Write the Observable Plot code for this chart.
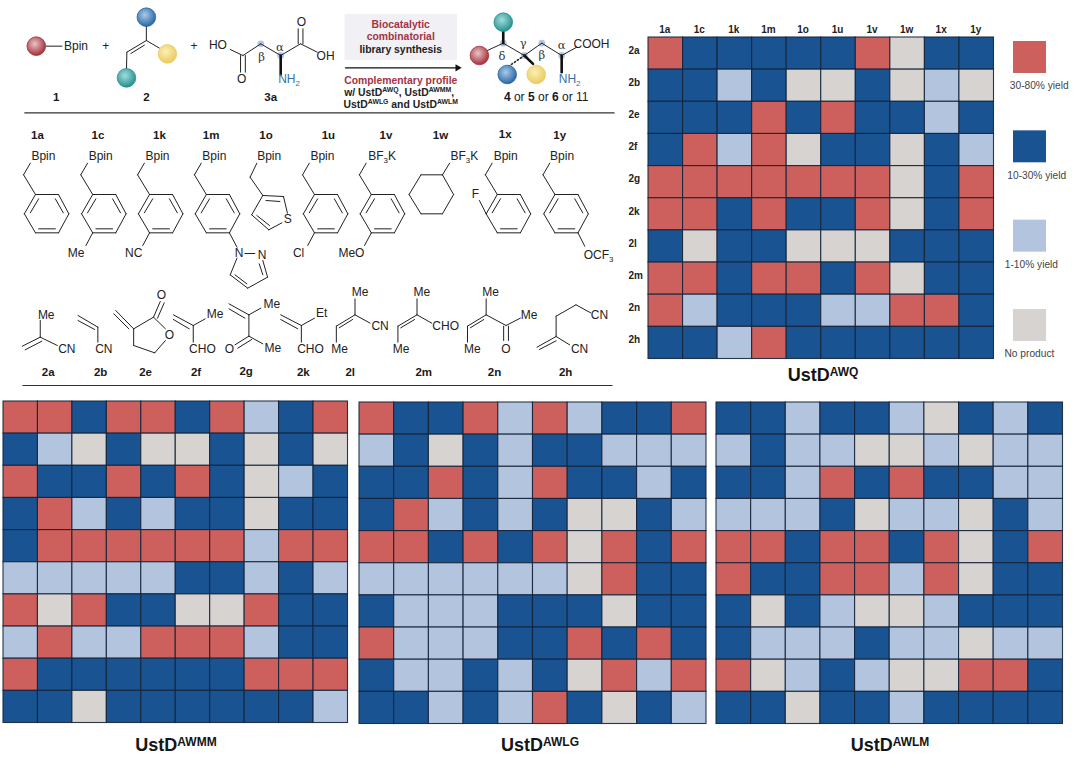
<!DOCTYPE html>
<html>
<head>
<meta charset="utf-8">
<script src="https://cdn.jsdelivr.net/npm/d3@7"></script>
<script src="https://cdn.jsdelivr.net/npm/@observablehq/plot@0.6"></script>
<style>
  html, body { margin: 0; background: #fff; }
  #page { position: relative; width: 1080px; height: 771px; overflow: hidden; font-family: "Liberation Sans", Arial, sans-serif; }
  #page svg.plot, #page > div > svg { position: absolute; }
  .panel-title { position: absolute; font: bold 18px/20px "Liberation Sans", Arial, sans-serif; color: #151515; white-space: nowrap; transform: translateX(-50%); }
  .panel-title sup { font-size: 12px; line-height: 0; vertical-align: 5.5px; }
</style>
</head>
<body>
<div id="page"></div>
<svg width="0" height="0" style="position:absolute">
  <defs id="balls"></defs>
</svg>
<script>
// ---------- chart values ----------
const substrates1 = ["1a","1c","1k","1m","1o","1u","1v","1w","1x","1y"];
const substrates2 = ["2a","2b","2e","2f","2g","2k","2l","2m","2n","2h"];
const yieldClasses = ["30-80% yield","10-30% yield","1-10% yield","No product"];
const yieldColors = ["#cd605c","#1a5391","#b3c5de","#d6d3d1"];
// H = 30-80%, M = 10-30%, L = 1-10%, N = no product; one string per row (2a ... 2h), one letter per column (1a ... 1y)
const ustdAWQ = ["HMMMMMHNMM","MMLMNNMNLN","MMMHMHMMLM","MHLHNMMNML","HHHHHHHNMH","HHMHMMHNMH","MNMMNNNMMM","HHMHHMHNMM","HLMMMLLHHM","MMLHMMMMMM"];
const ustdAWMM = ["HHMHHMHLMH","MLNMNNMNMN","HMMHMHMNLM","MHLMLMMNMM","MHHHHHHLHH","LLLLLMMLML","HNHMMNNHMM","LHLLHHHLMM","HMMMMMMHHH","MMNMMMMMML"];
const ustdAWLG = ["HMMHLHLMMH","LMNMLMMLLL","MMHMLHMMLM","MHLMLMNNML","HHMHMHNHMH","LLLLLLNHMM","MLLLMMMNMM","HLLLMMHMHM","MLLMLMNHLH","MMLMLHMNML"];
const ustdAWLM = ["MMLMMLNMLM","LMLLNNLNLL","MMLHMHMMLL","LLLMNLLNML","HHMHHMHNMH","HMMHHLHNMM","MNMLNNLMMM","MLLLMLLNLL","HNLMLNNHHM","MMNMMLMMMM"];
const classOf = {H: yieldClasses[0], M: yieldClasses[1], L: yieldClasses[2], N: yieldClasses[3]};

// Heatmap panels: frame position on the page
const panels = [
  {name: "AWQ",  rows: ustdAWQ,  x: 647.7, y: 36.7,  w: 345.5, h: 321.5, axes: true, tx: 823, ty: 365},
  {name: "AWMM", rows: ustdAWMM, x: 2.5,   y: 401,   w: 344.5, h: 321.5, tx: 176, ty: 735},
  {name: "AWLG", rows: ustdAWLG, x: 358.5, y: 402.3, w: 347,   h: 321.5, tx: 540, ty: 735},
  {name: "AWLM", rows: ustdAWLM, x: 716.3, y: 402.3, w: 346.5, h: 321.5, tx: 890, ty: 735}
];
const legendDx = [-20.2, -22.7, -25.2, -25.5];

// ---------- reaction scheme: drawing units, mapped on the page by the Plot scales ----------
const row1 = 345, row2 = 825;
const ringBonds = [[0,0,17,-35],[0,0,30,59],[30,59,88,59],[88,59,114,117],[114,117,88,174],[88,174,30,174],[30,174,2,117],[2,117,30,59],[17,114,38,72],[80,72,100,114],[38,162,80,162]];
const benzylX = {"1a":58,"1c":202,"1k":345,"1m":488,"1u":760,"1v":903,"1x":1220,"1y":1365};
const extraBonds1 = [
  [202+30,178+174,202+13,178+212],[345+30,178+174,345+13,178+212],[760+30,178+174,760+13,178+212],[903+30,178+174,903+13,178+212],
  [576,352,595,395],[615,414,640,414],[595,428,578,478],[578,478,622,518],[622,518,672,485],[672,485,660,435],[590,478,620,505],[660,478,651,445],
  [1453,352,1470,392],
  [1222,295,1205,255],
  [628,185,645,143],[628,185,660,240],[660,240,712,243],[668,255,703,258],[712,243,722,293],[708,322,675,343],[675,343,632,298],[645,300,677,330],[632,298,660,240],
  [1058,178,1112,178],[1112,178,1140,237],[1140,237,1112,295],[1112,295,1058,295],[1058,295,1028,237],[1028,237,1058,178],[1112,178,1130,143]
].map(b => [b[0], b[1]+row1, b[2], b[3]+row1]);
const bonds2 = [
  [100,185,100,135],[100,185,55,212],[104,197,62,223],[100,185,143,210],
  [195,120,245,155],[195,135,237,162],[245,155,245,200],
  [385,125,402,78],[395,128,412,82],[335,160,385,125],[385,125,415,160],[415,195,388,232],[388,232,335,210],[335,210,335,160],[335,160,290,105],[323,160,285,115],
  [485,150,435,118],[475,160,435,132],[485,150,515,130],[485,150,485,200],
  [625,118,575,85],[615,128,575,100],[625,118,655,98],[625,118,625,182],[625,182,590,208],[632,192,597,218],[625,182,660,205],
  [757,150,705,118],[748,160,705,132],[757,150,790,128],[757,150,757,200],
  [892,118,892,70],[892,118,930,143],[892,118,845,152],[886,132,852,157],[845,152,845,200],
  [1048,118,1048,70],[1048,118,1085,143],[1048,118,1000,152],[1042,132,1007,157],[1000,152,1000,200],
  [1222,118,1222,70],[1222,118,1272,150],[1272,150,1308,128],[1266,152,1266,195],[1278,152,1278,195],[1222,118,1175,152],[1216,132,1182,157],[1175,152,1175,200],
  [1398,183,1350,215],[1398,196,1356,222],[1398,183,1398,122],[1398,122,1448,88],[1448,88,1485,112],[1398,183,1432,208]
].map(b => [b[0], b[1]+row2, b[2], b[3]+row2]);
const bonds0 = [
  [115,137,155,137],
  [367,120,367,75],[367,120,318,155],[362,134,328,159],[367,120,400,143],[318,155,317,205],
  [578,147,610,165],[610,165,655,130],[655,130,705,165],[705,165,755,130],[755,130,797,155],[604,165,604,215],[616,165,616,215],[749,130,749,85],[761,130,761,85],
  [1225,150,1265,128],[1265,128,1318,165],[1318,165,1362,128],[1362,128,1412,165],[1412,165,1450,140]
];
const wedges = [[705,165,705,222],[1265,128,1265,85],[1412,165,1412,215],[1318,165,1340,190]];
const hashed = [[1318,165,1278,198]];
const arrowLine = [[868,202,1150,202]];
const arrowTip = [[1150,202]];
const rules = [[60,337,1545,337],[55,330+row2,1540,330+row2]];
const catalystBox = [[867,42,1150,180]];
const balls = [
  ["red",90,137],["blue",367,50],["yellow",420,160],["teal",317,232],
  ["teal",1265,65],["red",1205,165],["blue",1275,222],["yellow",1348,222]
];
const centres = [[655,130],[705,165],[1265,128],[1318,165],[1362,128],[1412,165]];
const ballColors = {red: ["#e9c4c6","#a5303a"], blue: ["#a9cbe8","#2a66a6"], yellow: ["#fbf0b4","#eacb62"], teal: ["#a3dcdc","#26918f"]};

const plainLabels = [
  ["Bpin",190,137],["+",265,137],["+",487,137],["HO",547,135],["O",757,65],["O",607,235],["OH",818,168],["COOH",1487,132],
  ...[[108],[252],[395],[538],[676],[810]].map(([x]) => ["Bpin",x,122+row1]),
  ["BF_{3}K",960,122+row1],["BF_{3}K",1167,122+row1],["Bpin",1271,122+row1],["Bpin",1413,122+row1],
  ["S",723,312+row1],["Me",190,412+row1],["NC",335,412+row1],["N",600,412+row1],["N",658,418+row1],["Cl",750,412+row1],["MeO",883,412+row1],["F",1195,237+row1],["OCF_{3}",1505,418+row1],
  ["Me",115,118+row2],["CN",167,220+row2],["CN",260,220+row2],["O",405,58+row2],["O",425,178+row2],["Me",540,116+row2],["CHO",508,220+row2],
  ["Me",683,85+row2],["O",576,220+row2],["Me",685,218+row2],["Et",808,113+row2],["CHO",780,220+row2],
  ["Me",905,50+row2],["CN",955,152+row2],["Me",853,220+row2],["Me",1060,50+row2],["CHO",1120,152+row2],["Me",1008,220+row2],
  ["Me",1233,50+row2],["Me",1330,118+row2],["O",1272,220+row2],["Me",1187,220+row2],["CN",1507,118+row2],["CN",1457,220+row2]
];
const greekLabels = [["α",703,140],["β",657,170],["δ",1262,167],["γ",1315,128],["β",1362,165],["α",1412,135]];
const aminoLabels = [["NH_{2}",726,237],["NH_{2}",1432,237]];
const boldLabels = [
  ["1",140,290],["2",367,290],["3a",680,290],
  ["1a",93,60+row1],["1c",245,60+row1],["1k",400,60+row1],["1m",530,60+row1],["1o",668,60+row1],["1u",825,60+row1],["1v",970,60+row1],["1w",1107,60+row1],["1x",1270,57+row1],["1y",1407,60+row1],
  ["2a",120,290+row2],["2b",252,290+row2],["2e",365,290+row2],["2f",492,290+row2],["2g",618,286+row2],["2k",762,290+row2],["2l",880,290+row2],["2m",1065,290+row2],["2n",1243,290+row2],["2h",1422,290+row2]
];
const mixedProduct = [["*4* or *5* or *6* or 11",1373,290]];
const boxRed = [["Biocatalytic",1007,72],["combinatorial",1007,108]];
const boxDark = [["library synthesis",1007,147]];
const underRed = [["Complementary profile",1007,240]];
const underDark = [["w/ UstD^{AWQ}, UstD^{AWMM},",1003,276],["UstD^{AWLG} and UstD^{AWLM}",1007,312]];

// ---------- drawing ----------
const page = document.getElementById("page");
const defs = d3.select("#balls");
for (const [name, [hi, lo]] of Object.entries(ballColors)) {
  const g = defs.append("radialGradient").attr("id", "ball-" + name).attr("cx", "42%").attr("cy", "38%").attr("r", "62%");
  g.append("stop").attr("offset", "0%").attr("stop-color", hi);
  g.append("stop").attr("offset", "100%").attr("stop-color", lo);
}

function place(el, left, top) {
  el.style.position = "absolute";
  el.style.left = left + "px";
  el.style.top = top + "px";
  el.style.background = "transparent";
  page.appendChild(el);
}

panels.forEach(p => {
  const cells = p.rows.flatMap((r, i) => [...r].map((c, j) => ({row: substrates2[i], col: substrates1[j], cls: classOf[c]})));
  const ml = p.axes ? 24 : 1, mt = p.axes ? 22 : 1;
  const plot = Plot.plot({
    width: p.w + ml + 1, height: p.h + mt + 1,
    marginLeft: ml, marginTop: mt, marginRight: 1, marginBottom: 1,
    style: {fontFamily: '"Liberation Sans", Arial, sans-serif', background: "transparent", overflow: "visible"},
    x: {domain: substrates1, padding: 0, round: false, axis: null},
    y: {domain: substrates2, padding: 0, round: false, axis: null},
    color: {domain: yieldClasses, range: yieldColors},
    marks: [
      Plot.cell(cells, {x: "col", y: "row", fill: "cls", stroke: "#14243a", strokeWidth: 1.1, strokeOpacity: 0.9}),
      ...(p.axes ? [
        Plot.axisX({anchor: "top", tickSize: 0, tickPadding: 5, fontSize: 10, fontWeight: "bold", fill: "#222", dx: -1, label: null}),
        Plot.axisY({anchor: "left", tickSize: 0, textAnchor: "start", tickPadding: 0, dx: -20, dy: -3, fontSize: 10, fontWeight: "bold", fill: "#222", label: null})
      ] : [])
    ]
  });
  place(plot, p.x - ml, p.y - mt);
  const t = document.createElement("div");
  t.className = "panel-title";
  t.style.left = p.tx + "px";
  t.style.top = p.ty + "px";
  t.innerHTML = "UstD<sup>" + p.name + "</sup>";
  page.appendChild(t);
});

// legend
const legendPlot = Plot.plot({
  width: 80, height: 325,
  marginLeft: 10, marginRight: 37, marginTop: 5, marginBottom: 20,
  style: {fontFamily: '"Liberation Sans", Arial, sans-serif', background: "transparent", overflow: "visible"},
  x: {axis: null, padding: 0, round: false, domain: ["swatch"]},
  y: {axis: null, domain: yieldClasses, paddingInner: 0.642, paddingOuter: 0, round: false},
  color: {domain: yieldClasses, range: yieldColors},
  marks: [
    Plot.cell(yieldClasses, {x: () => "swatch", y: d => d, fill: d => d}),
    ...yieldClasses.map((c, i) => Plot.text([c], {
      x: () => "swatch", y: d => d, text: d => d, textAnchor: "start", dx: legendDx[i], dy: 28.5,
      fontSize: 10.2, fill: "#444"
    }))
  ]
});
place(legendPlot, 1003, 36);

// scheme
const txt = (data, o) => Plot.text(data, {x: d => d[1], y: d => d[2], text: d => d[0], ...o});
const lnk = (data, o) => Plot.link(data, {x1: d => d[0], y1: d => d[1], x2: d => d[2], y2: d => d[3], stroke: "#222", strokeWidth: 1, strokeLinecap: "round", ...o});
const scheme = Plot.plot({
  width: 620, height: 390, margin: 0,
  style: {fontFamily: '"Liberation Sans", Arial, sans-serif', background: "transparent"},
  x: {domain: [0, 1560], range: [0, 620], axis: null},
  y: {domain: [0, 1170], range: [0, 390], axis: null},
  marks: [
    Plot.rect(catalystBox, {x1: d => d[0], y1: d => d[1], x2: d => d[2], y2: d => d[3], fill: "#f1f0f4"}),
    Plot.dot(centres, {x: d => d[0], y: d => d[1], r: 3.4, fill: "#b8c6de"}),
    lnk(bonds0, {}), lnk(bonds2, {}),
    ...Object.entries(benzylX).map(([, x0]) => lnk(ringBonds, {
      x1: d => d[0] + x0, y1: d => d[1] + 178 + row1, x2: d => d[2] + x0, y2: d => d[3] + 178 + row1
    })),
    lnk(extraBonds1, {}),
    lnk(wedges, {strokeWidth: 2.6, stroke: "#111"}),
    lnk(hashed, {strokeDasharray: "1.2,2.4", strokeWidth: 1.6}),
    lnk(rules, {stroke: "#333", strokeWidth: 1.2, strokeLinecap: "butt"}),
    lnk(arrowLine, {strokeWidth: 1.2, stroke: "#111"}),
    Plot.dot(arrowTip, {x: d => d[0], y: d => d[1], symbol: "triangle2", rotate: 90, r: 3.4, fill: "#111", stroke: "none"}),
    Plot.dot(balls, {x: d => d[1], y: d => d[2], r: 9.3, fill: d => `url(#ball-${d[0]})`, stroke: d => ballColors[d[0]][1], strokeWidth: 0.8}),
    txt(plainLabels, {fontSize: 12, fill: "#222"}),
    txt(greekLabels, {fontSize: 11.5, fill: "#333", fontFamily: '"DejaVu Serif", serif'}),
    txt(aminoLabels, {fontSize: 12, fill: "#3b6e9e"}),
    txt(boldLabels, {fontSize: 11.5, fontWeight: "bold", fill: "#1a1a1a"}),
    txt(mixedProduct, {fontSize: 12, fill: "#1a1a1a"}),
    txt(boxRed, {fontSize: 10.4, fontWeight: "bold", fill: "#a23445"}),
    txt(boxDark, {fontSize: 10.4, fontWeight: "bold", fill: "#222"}),
    txt(underRed, {fontSize: 10.4, fontWeight: "bold", fill: "#a23445"}),
    txt(underDark, {fontSize: 10.4, fontWeight: "bold", fill: "#222"})
  ]
});
place(scheme, 0, 0);

// Turn ^{..}, _{..} and *..* in the scheme labels into real tspans
d3.select(scheme).selectAll("text").each(function () {
  const el = this, s = el.textContent;
  if (!/[\^_*]/.test(s)) return;
  const size = parseFloat(getComputedStyle(el).fontSize);
  el.textContent = "";
  const sel = d3.select(el);
  let shift = 0;
  for (const part of s.split(/(\^\{[^}]*\}|_\{[^}]*\}|\*[^*]*\*)/).filter(Boolean)) {
    const t = sel.append("tspan");
    if (part[0] === "^" || part[0] === "_") {
      const up = part[0] === "^" ? -0.36 * size : 0.24 * size;
      t.attr("dy", up - shift).attr("font-size", size * 0.66).text(part.slice(2, -1));
      shift = up;
    } else {
      if (shift) t.attr("dy", -shift);
      shift = 0;
      if (part[0] === "*") t.attr("font-weight", "bold").text(part.slice(1, -1));
      else t.text(part);
    }
  }
});
</script>
</body>
</html>
